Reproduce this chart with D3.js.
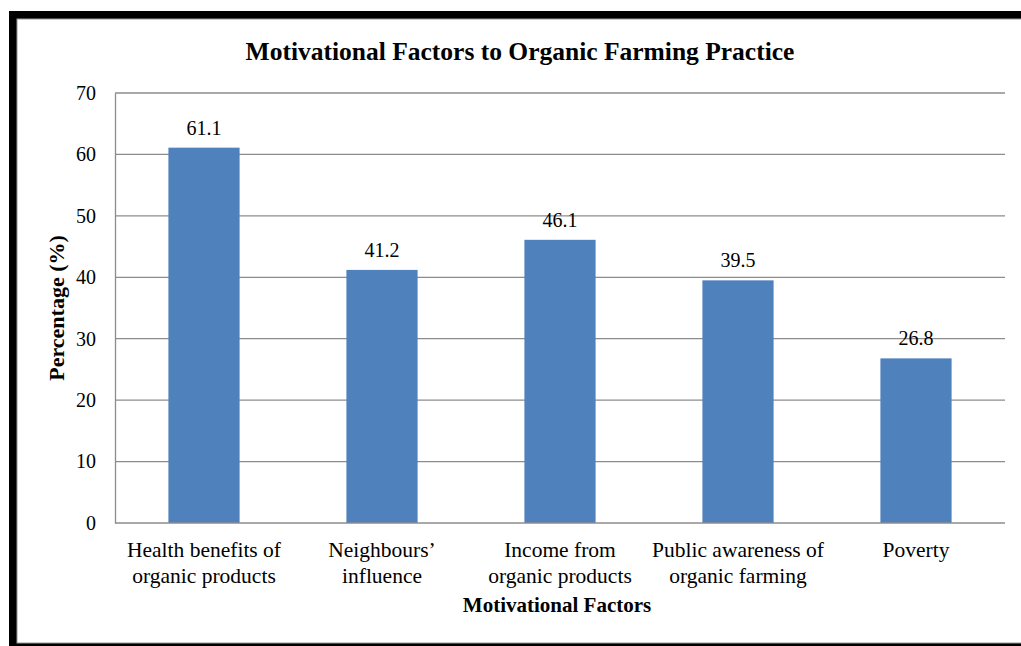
<!DOCTYPE html>
<html>
<head>
<meta charset="utf-8">
<script src="https://cdn.jsdelivr.net/npm/d3@7"></script>
<style>
  body { margin: 0; background: #fff; }
  svg text { font-family: "Liberation Serif", "Times New Roman", serif; fill: #000; }
</style>
</head>
<body>
<script>
// Data
const categories = [
  ["Health benefits of", "organic products"],
  ["Neighbours’", "influence"],
  ["Income from", "organic products"],
  ["Public awareness of", "organic farming"],
  ["Poverty"]
];
const values = [61.1, 41.2, 46.1, 39.5, 26.8];
const yTicks = [0, 10, 20, 30, 40, 50, 60, 70];

const W = 1021, H = 646;
const margin = {top: 93, right: 16, bottom: 123, left: 115};
const width = W - margin.left - margin.right;
const height = H - margin.top - margin.bottom;
const serif = "'Liberation Serif', 'Times New Roman', serif";

const svg = d3.select("body").append("svg")
    .attr("width", W)
    .attr("height", H)
    .style("font-family", serif);

// black frame like the scanned figure
svg.append("rect")
    .attr("x", 9).attr("y", 11)
    .attr("width", 1030).attr("height", 640)
    .attr("fill", "#000");
svg.append("rect")
    .attr("x", 17).attr("y", 19)
    .attr("width", 1020).attr("height", 624)
    .attr("fill", "#fff")
    .attr("stroke", "#999")
    .attr("stroke-width", 1);

const g = svg.append("g")
    .attr("transform", "translate(" + margin.left + "," + margin.top + ")");

const labels = categories.map(d => d.join(" "));

const xScale = d3.scaleBand()
    .domain(labels)
    .range([0, width])
    .paddingInner(0.6)
    .paddingOuter(0.3);

const yScale = d3.scaleLinear()
    .domain([0, 70])
    .range([height, 0]);

// gridlines
g.append("g")
    .selectAll("line")
    .data(yTicks.filter(d => d > 0))
    .enter().append("line")
    .attr("x1", 0)
    .attr("x2", width)
    .attr("y1", d => yScale(d))
    .attr("y2", d => yScale(d))
    .attr("stroke", "#8c8c8c")
    .attr("stroke-width", 1.3);

// y axis
const yAxis = g.append("g")
    .call(d3.axisLeft(yScale).tickValues(yTicks).tickSize(0).tickPadding(19));
yAxis.attr("font-family", null).attr("font-size", null);
yAxis.select(".domain").attr("stroke", "#8c8c8c").attr("stroke-width", 1.3);
yAxis.selectAll("text")
    .style("font-family", serif)
    .style("font-size", "20px")
    .attr("fill", "#000");

// bars
g.selectAll(".bar")
    .data(values)
    .enter().append("rect")
    .attr("class", "bar")
    .attr("x", (d, i) => xScale(labels[i]))
    .attr("y", d => yScale(d))
    .attr("width", xScale.bandwidth())
    .attr("height", d => height - yScale(d))
    .attr("fill", "#4f81bd");

// x axis line
g.append("line")
    .attr("x1", 0).attr("x2", width)
    .attr("y1", height).attr("y2", height)
    .attr("stroke", "#8c8c8c")
    .attr("stroke-width", 1.3);

// value labels
g.selectAll(".val")
    .data(values)
    .enter().append("text")
    .attr("class", "val")
    .attr("x", (d, i) => xScale(labels[i]) + xScale.bandwidth() / 2)
    .attr("y", d => yScale(d) - 13)
    .attr("text-anchor", "middle")
    .style("font-size", "20px")
    .text(d => d.toFixed(1));

// category labels (two lines)
const cat = g.selectAll(".cat")
    .data(categories)
    .enter().append("text")
    .attr("class", "cat")
    .attr("text-anchor", "middle")
    .attr("transform", (d, i) => "translate(" + (xScale(labels[i]) + xScale.bandwidth() / 2) + "," + (height + 34) + ")")
    .style("font-size", "21.5px");
cat.selectAll("tspan")
    .data(d => d)
    .enter().append("tspan")
    .attr("x", 0)
    .attr("dy", (d, i) => i === 0 ? 0 : 26)
    .text(d => d);

// title
svg.append("text")
    .attr("x", 520)
    .attr("y", 60)
    .attr("text-anchor", "middle")
    .style("font-size", "25.5px")
    .style("font-weight", "bold")
    .text("Motivational Factors to Organic Farming Practice");

// axis titles
svg.append("text")
    .attr("x", 557)
    .attr("y", 612)
    .attr("text-anchor", "middle")
    .style("font-size", "21px")
    .style("font-weight", "bold")
    .text("Motivational  Factors");

svg.append("text")
    .attr("transform", "translate(64," + (margin.top + height / 2) + ") rotate(-90)")
    .attr("text-anchor", "middle")
    .style("font-size", "22px")
    .style("font-weight", "bold")
    .text("Percentage (%)");
</script>
</body>
</html>
